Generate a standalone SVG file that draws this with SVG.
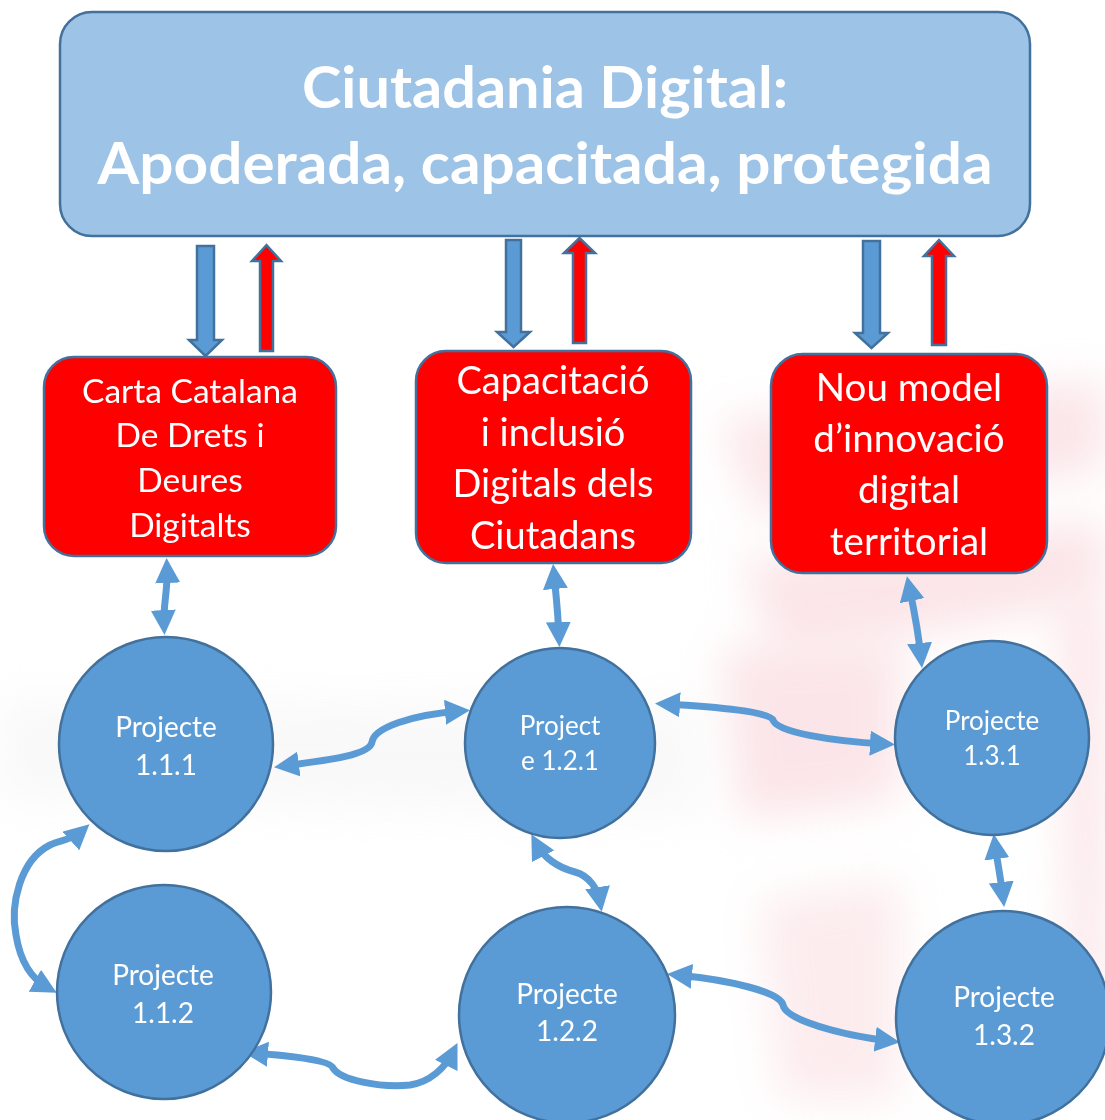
<svg xmlns="http://www.w3.org/2000/svg" width="1105" height="1120" viewBox="0 0 1105 1120">
<defs>
<filter id="blur" filterUnits="userSpaceOnUse" x="-200" y="-200" width="1505" height="1520"><feGaussianBlur stdDeviation="22"/></filter>
<marker id="ah" viewBox="0 0 25 25" refX="15" refY="12.5" markerWidth="25" markerHeight="25" markerUnits="userSpaceOnUse" orient="auto-start-reverse">
<path d="M0,0 L25,12.5 L0,25 z" fill="#5B9BD5"/>
</marker>
<style>
.wm{filter:url(#blur);}
.top{fill:#9DC3E6;stroke:#41719C;stroke-width:2.5;}
.red{fill:#FF0000;stroke:#41719C;stroke-width:2.5;}
.circ{fill:#5B9BD5;stroke:#41719C;stroke-width:2.5;}
.barr{fill:#5B9BD5;stroke:#41719C;stroke-width:2.5;stroke-linejoin:miter;}
.rarr{fill:#FF0000;stroke:#41719C;stroke-width:2.5;stroke-linejoin:miter;}
.con{fill:none;stroke:#5B9BD5;stroke-width:7;marker-start:url(#ah);marker-end:url(#ah);}
text{font-family:Lato,"Open Sans","Liberation Sans",sans-serif;fill:#FFFFFF;text-anchor:middle;}
.t1{font-size:58px;font-weight:bold;}
.b1{font-size:33.5px;}
.b2{font-size:38px;}
.b3{font-size:38.5px;}
.c{font-size:28px;}
.cs{font-size:26px;}
</style>
</defs>
<rect width="1105" height="1120" fill="#FFFFFF"/>
<g id="watermark" opacity="0.35">
<path class="wm" d="M720,420 L1105,380 L1105,470 L760,520 Z" fill="#F4B6BE"/>
<path class="wm" d="M740,560 L1105,520 L1105,600 L780,660 Z" fill="#F4B6BE"/>
<path class="wm" d="M720,650 L900,640 L900,800 L740,820 Z" fill="#F4B6BE"/>
<path class="wm" d="M760,900 L900,880 L900,1100 L780,1100 Z" fill="#F7C9CE"/>
<path class="wm" d="M1060,600 L1105,600 L1105,1000 L1070,1000 Z" fill="#F4B6BE"/>
<path class="wm" d="M0,700 L700,705 L700,815 L0,800 Z" fill="#EDEDED"/>
</g>
<g id="title">
<rect class="top" x="60" y="12" width="970" height="224" rx="32"/>
<text class="t1" x="545" y="108" textLength="486" lengthAdjust="spacingAndGlyphs">Ciutadania Digital:</text>
<text class="t1" x="545" y="184" textLength="895" lengthAdjust="spacingAndGlyphs">Apoderada, capacitada, protegida</text>
</g>
<g id="block-arrows">
<polygon class="barr" points="197,246 214,246 214,340 222,340 205.5,356 189,340 197,340"/>
<polygon class="rarr" points="260,351 273,351 273,261 281,261 266.5,245 252,261 260,261"/>
<polygon class="barr" points="506,240 521,240 521,332 530,332 513.5,347 497,332 506,332"/>
<polygon class="rarr" points="573,343 586,343 586,253 595,253 579.5,238 564,253 573,253"/>
<polygon class="barr" points="863,241 880,241 880,333 888,333 871.5,348 855,333 863,333"/>
<polygon class="rarr" points="932,345 946,345 946,256 954,256 939,240 924,256 932,256"/>
</g>
<g id="box1">
<rect class="red" x="44" y="357" width="292" height="199" rx="30"/>
<text class="b1" x="190" y="403">Carta Catalana</text>
<text class="b1" x="190" y="447">De Drets i</text>
<text class="b1" x="190" y="492">Deures</text>
<text class="b1" x="190" y="537">Digitalts</text>
</g>
<g id="box2">
<rect class="red" x="416" y="351" width="275" height="212" rx="30"/>
<text class="b2" x="553" y="394">Capacitació</text>
<text class="b2" x="553" y="446">i inclusió</text>
<text class="b2" x="553" y="497">Digitals dels</text>
<text class="b2" x="553" y="549">Ciutadans</text>
</g>
<g id="box3">
<rect class="red" x="771" y="354" width="276" height="219" rx="32"/>
<text class="b3" x="909" y="401">Nou model</text>
<text class="b3" x="909" y="452">d’innovació</text>
<text class="b3" x="909" y="503">digital</text>
<text class="b3" x="909" y="555">territorial</text>
</g>
<g id="connectors">
<path class="con" d="M167,568 C168,590 163,605 164,625"/>
<path class="con" d="M554,574 C556,595 558,612 559,637"/>
<path class="con" d="M909,586 C913,605 918,628 921,658"/>
<path class="con" d="M995,844 C997,860 1001,880 1003,897"/>
<path class="con" d="M284,766 C330,760 370,755 372,742 C374,728 410,715 460,711"/>
<path class="con" d="M665,704 C720,707 770,712 773,720 C776,732 830,741 885,744"/>
<path class="con" d="M82,831 C72,840 60,840 50,845 C20,860 10,905 16,935 C20,960 30,978 48,988"/>
<path class="con" d="M536,843 C545,860 560,868 575,872 C590,876 598,890 600,902"/>
<path class="con" d="M253,1053 C290,1056 330,1060 333,1068 C340,1080 380,1088 410,1085 C430,1082 445,1068 453,1052"/>
<path class="con" d="M677,975 C730,980 780,992 783,1005 C786,1020 840,1035 890,1041"/>
</g>
<g id="p111">
<circle class="circ" cx="166" cy="744" r="107"/>
<text class="c" x="166" y="737">Projecte</text>
<text class="c" x="166" y="775">1.1.1</text>
</g>
<g id="p112">
<circle class="circ" cx="164" cy="992" r="107"/>
<text class="c" x="163" y="985">Projecte</text>
<text class="c" x="163" y="1023">1.1.2</text>
</g>
<g id="p121">
<circle class="circ" cx="560" cy="743" r="95"/>
<text class="cs" x="560" y="735">Project</text>
<text class="cs" x="560" y="770">e 1.2.1</text>
</g>
<g id="p122">
<circle class="circ" cx="567" cy="1015" r="108"/>
<text class="c" x="567" y="1004">Projecte</text>
<text class="c" x="567" y="1041">1.2.2</text>
</g>
<g id="p131">
<circle class="circ" cx="992" cy="738" r="97"/>
<text class="cs" x="992" y="730">Projecte</text>
<text class="cs" x="992" y="765">1.3.1</text>
</g>
<g id="p132">
<circle class="circ" cx="1003" cy="1018" r="107"/>
<text class="c" x="1004" y="1007">Projecte</text>
<text class="c" x="1004" y="1045">1.3.2</text>
</g>
</svg>
